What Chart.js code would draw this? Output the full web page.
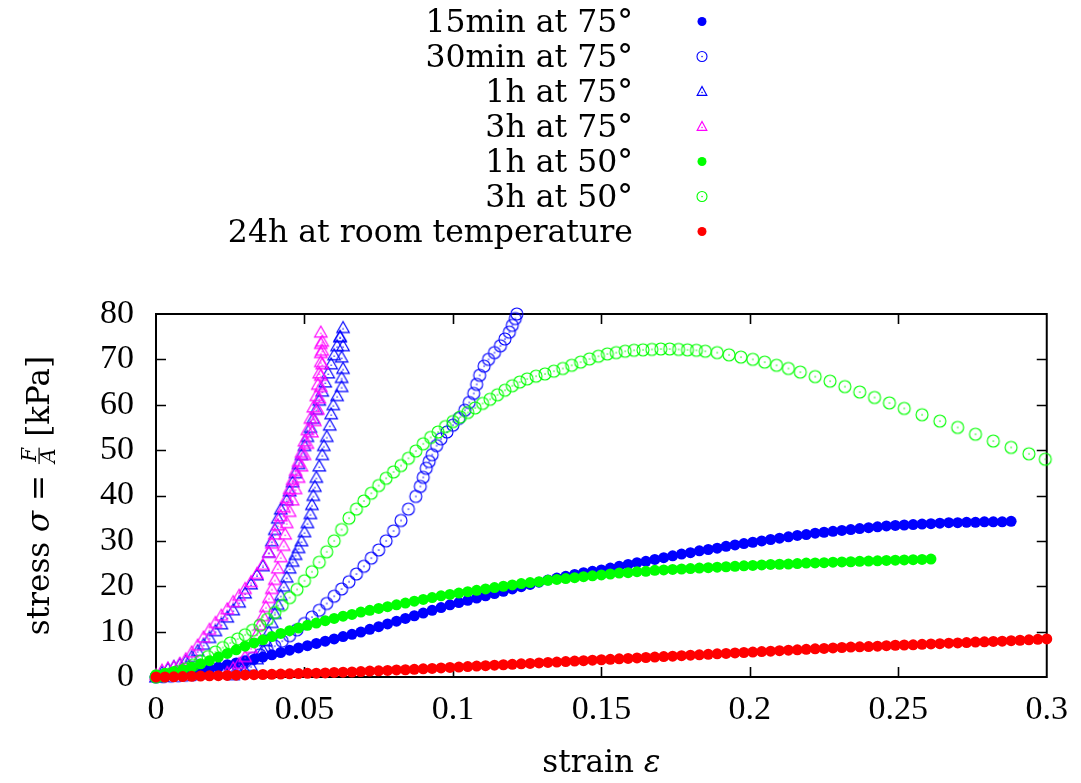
<!DOCTYPE html>
<html>
<head>
<meta charset="utf-8">
<script src="https://cdn.jsdelivr.net/npm/chart.js@4/dist/chart.umd.min.js"></script>
<style>
html,body{margin:0;padding:0;background:#fff;}
canvas{display:block;}
</style>
</head>
<body>
<canvas id="c" width="1081" height="783"></canvas>
<script>
// ---------------- DATA (strain, stress in kPa) ----------------
const seriesLabels = ["15min at 75°", "30min at 75°", "1h at 75°", "3h at 75°", "1h at 50°", "3h at 50°", "24h at room temperature"];
const xTickLabels = ["0", "0.05", "0.1", "0.15", "0.2", "0.25", "0.3"];
const yTickLabels = ["0", "10", "20", "30", "40", "50", "60", "70", "80"];

const s15min75 = [[0,0],[0.003,0.1],[0.006,0.3],[0.009,0.5],[0.012,0.8],[0.015,1.2],[0.018,1.7],[0.021,2.2],[0.024,2.7],[0.027,3.1],[0.03,3.5],[0.033,3.9],[0.036,4.4],[0.039,4.9],[0.042,5.4],[0.045,5.9],[0.048,6.4],[0.051,6.9],[0.054,7.4],[0.057,7.9],[0.06,8.4],[0.063,8.9],[0.066,9.4],[0.069,9.9],[0.072,10.5],[0.075,11.1],[0.078,11.7],[0.081,12.3],[0.084,12.9],[0.087,13.5],[0.09,14.1],[0.093,14.7],[0.096,15.3],[0.099,15.9],[0.102,16.4],[0.105,16.9],[0.108,17.4],[0.111,17.9],[0.114,18.4],[0.117,18.9],[0.12,19.4],[0.123,19.9],[0.126,20.4],[0.129,20.9],[0.132,21.4],[0.135,21.8],[0.138,22.2],[0.141,22.6],[0.144,23.0],[0.147,23.3],[0.15,23.6],[0.153,24.0],[0.156,24.4],[0.159,24.8],[0.162,25.2],[0.165,25.5],[0.168,25.9],[0.171,26.3],[0.174,26.7],[0.177,27.1],[0.18,27.4],[0.183,27.8],[0.186,28.1],[0.189,28.4],[0.192,28.8],[0.195,29.1],[0.198,29.4],[0.201,29.7],[0.204,30.0],[0.207,30.3],[0.21,30.6],[0.213,30.9],[0.216,31.2],[0.219,31.4],[0.222,31.7],[0.225,31.9],[0.228,32.1],[0.231,32.3],[0.234,32.5],[0.237,32.7],[0.24,32.9],[0.243,33.1],[0.246,33.3],[0.249,33.4],[0.252,33.5],[0.255,33.6],[0.258,33.7],[0.261,33.8],[0.264,33.9],[0.267,34.0],[0.27,34.0],[0.273,34.1],[0.276,34.1],[0.279,34.2],[0.282,34.2],[0.285,34.2],[0.288,34.3]];

const s30min75 = [[0,0],[0.0025,0.1],[0.005,0.2],[0.0075,0.3],[0.01,0.4],[0.0125,0.5],[0.015,0.7],[0.0175,0.9],[0.02,1.2],[0.0225,1.6],[0.025,2.1],[0.0275,2.7],[0.03,3.4],[0.0325,4.1],[0.035,4.9],[0.0375,5.8],[0.04,6.8],[0.0425,7.9],[0.045,9.1],[0.0475,10.4],[0.05,11.8],[0.0525,13.2],[0.055,14.7],[0.0575,16.2],[0.06,17.8],[0.0625,19.4],[0.065,21.0],[0.0675,22.7],[0.07,24.4],[0.0725,26.2],[0.075,28.0],[0.0775,30.0],[0.08,32.2],[0.0825,34.5],[0.085,37.0],[0.0875,39.8],[0.089,42],[0.09,44],[0.091,46],[0.092,47.5],[0.093,49],[0.0945,51],[0.096,52.5],[0.098,54],[0.1,55.5],[0.102,57],[0.104,58.8],[0.1055,60.5],[0.107,62.5],[0.108,64.5],[0.109,66.5],[0.1105,68.5],[0.112,70],[0.114,71.5],[0.116,73],[0.1175,74.5],[0.119,76],[0.12,77.5],[0.121,79],[0.1215,80]];

const s1h75 = [[0,0],[0.002,1.0],[0.004,1.8],[0.006,2.3],[0.008,2.8],[0.01,3.5],[0.012,4.5],[0.014,5.8],[0.016,7.2],[0.018,8.7],[0.02,10.2],[0.022,11.7],[0.024,13.2],[0.026,14.8],[0.028,16.5],[0.03,18.5],[0.032,20.5],[0.034,22.5],[0.036,24.5],[0.038,27.5],[0.039,30],[0.04,32.5],[0.041,35],[0.042,37],[0.044,39],[0.045,41],[0.046,43],[0.047,45],[0.048,47],[0.049,49],[0.05,51],[0.051,53],[0.052,55],[0.053,57],[0.054,59],[0.055,61],[0.056,63],[0.057,65],[0.058,67],[0.059,69],[0.06,71],[0.061,73],[0.062,75],[0.063,77],
  [0.026,0.5],[0.028,1.0],[0.03,1.5],[0.032,2.5],[0.034,4],[0.036,6],[0.037,8],[0.038,10],[0.039,12],[0.04,14],[0.041,16],[0.042,18],[0.043,20],[0.044,22],[0.045,24],[0.046,25.5],[0.047,27],[0.048,28.5],[0.049,30],[0.05,32],[0.051,34],[0.052,36],[0.0525,38],[0.053,40],[0.0535,42],[0.054,44],[0.055,46.5],[0.056,49],[0.0565,51],[0.0575,53],[0.0585,55.5],[0.059,58],[0.0597,60],[0.061,62],[0.0625,64],[0.0625,66],[0.063,68],[0.0625,70.5],[0.063,73],[0.062,75]];

const s3h75 = [[0,0.5],[0.002,1.5],[0.004,2.0],[0.006,2.3],[0.008,3.0],[0.01,4.0],[0.012,5.5],[0.014,7.0],[0.016,8.8],[0.018,10.5],[0.02,12.0],[0.022,13.6],[0.024,15.0],[0.026,16.6],[0.028,18.0],[0.03,19.5],[0.032,21.0],[0.034,22.8],[0.036,24.8],[0.038,27.5],[0.039,29.5],[0.04,31.5],[0.041,33.5],[0.042,35.5],[0.043,37.5],[0.044,39.5],[0.045,41.5],[0.046,43.5],[0.047,45.5],[0.048,47.5],[0.049,49.5],[0.05,52],[0.051,54.5],[0.052,57],[0.053,59.5],[0.054,62],[0.0545,64.5],[0.055,67],[0.0555,69.5],[0.056,72],[0.056,74],[0.0555,76],
  [0.024,1.0],[0.026,2.0],[0.028,3.0],[0.03,4.5],[0.032,6.5],[0.034,9.5],[0.035,11.5],[0.036,13.5],[0.037,15.5],[0.038,17.5],[0.039,19.5],[0.04,21.5],[0.041,24],[0.042,26.5],[0.043,29],[0.0435,31.5],[0.044,34],[0.045,36.5],[0.046,39],[0.047,41.5],[0.048,44],[0.049,46.5],[0.05,49],[0.051,51.5],[0.0525,54],[0.0535,56.5],[0.0545,59],[0.055,61.5],[0.0555,64],[0.0555,66.5],[0.056,69],[0.0555,71.5],[0.0555,73.5]];

const s1h50 = [[0,0.5],[0.003,0.8],[0.006,1.2],[0.009,1.6],[0.012,2.2],[0.015,2.9],[0.018,3.6],[0.021,4.4],[0.024,5.2],[0.027,6.0],[0.03,6.8],[0.033,7.5],[0.036,8.2],[0.039,8.9],[0.042,9.6],[0.045,10.2],[0.048,10.8],[0.051,11.4],[0.054,11.9],[0.057,12.4],[0.06,12.9],[0.063,13.4],[0.066,13.8],[0.069,14.3],[0.072,14.7],[0.075,15.1],[0.078,15.5],[0.081,15.9],[0.084,16.3],[0.087,16.7],[0.09,17.1],[0.093,17.5],[0.096,17.9],[0.099,18.2],[0.102,18.5],[0.105,18.8],[0.108,19.1],[0.111,19.4],[0.114,19.7],[0.117,20.0],[0.12,20.3],[0.123,20.6],[0.126,20.8],[0.129,21.0],[0.132,21.3],[0.135,21.5],[0.138,21.7],[0.141,21.9],[0.144,22.1],[0.147,22.3],[0.15,22.5],[0.153,22.7],[0.156,22.9],[0.159,23.0],[0.162,23.2],[0.165,23.3],[0.168,23.5],[0.171,23.6],[0.174,23.7],[0.177,23.8],[0.18,23.9],[0.183,24.0],[0.186,24.1],[0.189,24.2],[0.192,24.3],[0.195,24.4],[0.198,24.5],[0.201,24.6],[0.204,24.7],[0.207,24.8],[0.21,24.85],[0.213,24.9],[0.216,25.0],[0.219,25.1],[0.222,25.15],[0.225,25.2],[0.228,25.3],[0.231,25.35],[0.234,25.4],[0.237,25.5],[0.24,25.55],[0.243,25.6],[0.246,25.7],[0.249,25.75],[0.252,25.8],[0.255,25.85],[0.258,25.9],[0.261,26.0]];

const s3h50 = [[0,0],[0.0025,0.3],[0.005,0.7],[0.0075,1.2],[0.01,1.8],[0.0125,2.6],[0.015,3.5],[0.0175,4.5],[0.02,5.5],[0.0225,6.5],[0.025,7.5],[0.0275,8.4],[0.03,9.3],[0.0325,10.3],[0.035,11.4],[0.0375,12.7],[0.04,14.2],[0.0425,15.8],[0.045,17.5],[0.0475,19.3],[0.05,21.2],[0.0525,23.2],[0.055,25.3],[0.0575,27.6],[0.06,30.0],[0.0625,32.5],[0.065,35.0],[0.0675,37.0],[0.07,38.8],[0.0725,40.5],[0.075,42.2],[0.0775,43.8],[0.08,45.2],[0.0825,46.6],[0.085,48.2],[0.0875,49.8],[0.09,51.4],[0.0925,52.8],[0.095,54.0],[0.0975,55.2],[0.1,56.3],[0.1025,57.3],[0.105,58.3],[0.1075,59.3],[0.11,60.3],[0.1125,61.2],[0.115,62.2],[0.1175,63.2],[0.12,64.2],[0.1225,65.0],[0.125,65.7],[0.128,66.3],[0.131,66.8],[0.134,67.4],[0.137,68.0],[0.14,68.7],[0.143,69.4],[0.146,70.1],[0.149,70.7],[0.152,71.2],[0.155,71.5],[0.158,71.8],[0.161,72.0],[0.164,72.1],[0.167,72.2],[0.17,72.3],[0.173,72.3],[0.176,72.2],[0.179,72.1],[0.182,72.0],[0.185,71.8],[0.189,71.5],[0.193,71.0],[0.197,70.5],[0.201,70.0],[0.205,69.4],[0.209,68.7],[0.213,68.0],[0.217,67.2],[0.222,66.2],[0.227,65.2],[0.232,64.0],[0.237,62.8],[0.242,61.6],[0.247,60.4],[0.252,59.2],[0.258,57.8],[0.264,56.4],[0.27,55.0],[0.276,53.5],[0.282,52.0],[0.288,50.6],[0.294,49.2],[0.2995,48.0]];

const s24hRT = [[0,0],[0.003,0.0],[0.006,0.05],[0.009,0.1],[0.012,0.15],[0.015,0.2],[0.018,0.25],[0.021,0.3],[0.024,0.35],[0.027,0.4],[0.03,0.45],[0.033,0.5],[0.036,0.55],[0.039,0.6],[0.042,0.65],[0.045,0.7],[0.048,0.75],[0.051,0.8],[0.054,0.85],[0.057,0.9],[0.06,1.0],[0.063,1.05],[0.066,1.1],[0.069,1.2],[0.072,1.3],[0.075,1.35],[0.078,1.45],[0.081,1.55],[0.084,1.6],[0.087,1.7],[0.09,1.8],[0.093,1.9],[0.096,2.0],[0.099,2.1],[0.102,2.2],[0.105,2.3],[0.108,2.4],[0.111,2.5],[0.114,2.6],[0.117,2.7],[0.12,2.8],[0.123,2.9],[0.126,3.0],[0.129,3.1],[0.132,3.2],[0.135,3.3],[0.138,3.4],[0.141,3.5],[0.144,3.6],[0.147,3.7],[0.15,3.8],[0.153,3.9],[0.156,4.0],[0.159,4.1],[0.162,4.2],[0.165,4.3],[0.168,4.4],[0.171,4.5],[0.174,4.6],[0.177,4.7],[0.18,4.8],[0.183,4.9],[0.186,5.0],[0.189,5.1],[0.192,5.2],[0.195,5.3],[0.198,5.4],[0.201,5.5],[0.204,5.6],[0.207,5.7],[0.21,5.8],[0.213,5.9],[0.216,6.0],[0.219,6.1],[0.222,6.2],[0.225,6.3],[0.228,6.4],[0.231,6.5],[0.234,6.6],[0.237,6.65],[0.24,6.7],[0.243,6.8],[0.246,6.9],[0.249,7.0],[0.252,7.05],[0.255,7.1],[0.258,7.2],[0.261,7.3],[0.264,7.35],[0.267,7.45],[0.27,7.5],[0.273,7.6],[0.276,7.7],[0.279,7.75],[0.282,7.85],[0.285,7.9],[0.288,8.0],[0.291,8.1],[0.294,8.2],[0.297,8.3],[0.3,8.4]];

const seriesData = [s15min75, s30min75, s1h75, s3h75, s1h50, s3h50, s24hRT];

// ---------------- STYLES ----------------
const seriesColors = ["#0000ff", "#0000ff", "#0000ff", "#ff00ff", "#00ff00", "#00ff00", "#ff0000"];
const seriesKinds = ["filled", "open", "tri", "tri", "filled", "open", "filled"];
const SERIF = "'Liberation Serif', 'Times New Roman', serif";
const TEXTSERIF = "'DejaVu Serif', serif";

function openCircleImg(color) {
  const c = document.createElement('canvas'); c.width = 16; c.height = 16;
  const g = c.getContext('2d');
  g.strokeStyle = color; g.lineWidth = 1.1;
  g.beginPath(); g.arc(8, 8, 6, 0, Math.PI * 2); g.stroke();
  g.fillStyle = color; g.fillRect(7.4, 7.4, 1.3, 1.3);
  return c;
}
function triImg(color) {
  const c = document.createElement('canvas'); c.width = 16; c.height = 16;
  const g = c.getContext('2d');
  g.strokeStyle = color; g.lineWidth = 1.2;
  g.beginPath(); g.moveTo(8, 2); g.lineTo(1.8, 12.8); g.lineTo(14.2, 12.8); g.closePath(); g.stroke();
  g.fillStyle = color; g.fillRect(7.4, 8.6, 1.3, 1.3);
  return c;
}

const datasets = seriesData.map((arr, i) => {
  const kind = seriesKinds[i], col = seriesColors[i];
  const ds = {
    label: seriesLabels[i],
    data: arr.map(p => ({x: p[0], y: p[1]})),
    order: seriesData.length - i,
    clip: false,
    showLine: false,
    borderWidth: 0,
    backgroundColor: col,
    borderColor: col
  };
  if (kind === 'filled') { ds.pointStyle = 'circle'; ds.pointRadius = 5.5; }
  else if (kind === 'open') { ds.pointStyle = openCircleImg(col); ds.pointRadius = 6; }
  else { ds.pointStyle = triImg(col); ds.pointRadius = 6; }
  return ds;
});

// ---------------- PLUGINS ----------------
const framePlugin = {
  id: 'frame',
  beforeDatasetsDraw(chart) {
    const {ctx, chartArea: a, scales: {x, y}} = chart;
    ctx.save();
    ctx.strokeStyle = '#000';
    ctx.lineWidth = 1.6;
    ctx.beginPath();
    x.ticks.forEach(t => {
      const px = Math.round(x.getPixelForValue(t.value)) + 0.5;
      if (px <= a.left + 2 || px >= a.right - 2) return;
      ctx.moveTo(px, a.bottom); ctx.lineTo(px, a.bottom - 10);
      ctx.moveTo(px, a.top); ctx.lineTo(px, a.top + 10);
    });
    y.ticks.forEach(t => {
      const py = Math.round(y.getPixelForValue(t.value)) + 0.5;
      if (py <= a.top + 2 || py >= a.bottom - 2) return;
      ctx.moveTo(a.left, py); ctx.lineTo(a.left + 10, py);
      ctx.moveTo(a.right, py); ctx.lineTo(a.right - 10, py);
    });
    ctx.stroke();
    ctx.lineWidth = 2;
    ctx.strokeRect(a.left, a.top, a.right - a.left, a.bottom - a.top);
    ctx.restore();
  }
};

const titlesPlugin = {
  id: 'titles',
  afterDraw(chart) {
    const ctx = chart.ctx;
    const a = chart.chartArea;
    ctx.save();
    ctx.fillStyle = '#000';
    ctx.textBaseline = 'alphabetic';
    ctx.textAlign = 'left';
    // x title: strain ε
    const up = '31px ' + TEXTSERIF, it = 'italic 31px ' + TEXTSERIF;
    ctx.font = up; const w1 = ctx.measureText('strain ').width;
    ctx.font = it; const w2 = ctx.measureText('ε').width;
    let x0 = (a.left + a.right) / 2 - (w1 + w2) / 2;
    ctx.font = up; ctx.fillText('strain ', x0, 772);
    ctx.font = it; ctx.fillText('ε', x0 + w1, 772);

    // y title (rotated): stress σ = F/A [kPa]
    const fr = 'italic 20px ' + TEXTSERIF;
    ctx.font = up; const p1 = ctx.measureText('stress ').width;
    ctx.font = it; const p2 = ctx.measureText('σ').width;
    ctx.font = up; const p3 = ctx.measureText(' = ').width;
    ctx.font = fr; const pf = Math.max(ctx.measureText('F').width, ctx.measureText('A').width) + 4;
    ctx.font = up; const p5 = ctx.measureText(' [kPa]').width;
    const total = p1 + p2 + p3 + pf + p5;
    ctx.translate(49, (a.top + a.bottom) / 2);
    ctx.rotate(-Math.PI / 2);
    let cx = -total / 2;
    ctx.font = up; ctx.fillText('stress ', cx, 0); cx += p1;
    ctx.font = it; ctx.fillText('σ', cx, 0); cx += p2;
    ctx.font = up; ctx.fillText(' = ', cx, 0); cx += p3;
    ctx.font = fr; ctx.textAlign = 'center';
    ctx.fillText('F', cx + pf / 2 + 1, -13);
    ctx.fillText('A', cx + pf / 2, 6);
    ctx.fillRect(cx + 1, -10.5, pf - 2, 1.2);
    ctx.textAlign = 'left'; cx += pf;
    ctx.font = up; ctx.fillText(' [kPa]', cx, 0);
    ctx.restore();
  }
};

const legendPlugin = {
  id: 'gpLegend',
  afterDraw(chart) {
    const ctx = chart.ctx;
    ctx.save();
    ctx.font = '31.5px ' + TEXTSERIF;
    ctx.textAlign = 'right';
    ctx.textBaseline = 'alphabetic';
    chart.data.datasets.forEach((ds, i) => {
      const base = 32 + 35.0 * i;
      const my = 21.5 + 35.0 * i;
      ctx.fillStyle = '#000';
      ctx.fillText(ds.label, 633, base);
      const col = seriesColors[i], kind = seriesKinds[i];
      const mx = 702;
      ctx.strokeStyle = col; ctx.fillStyle = col;
      if (kind === 'filled') {
        ctx.beginPath(); ctx.arc(mx, my, 4.5, 0, Math.PI * 2); ctx.fill();
      } else if (kind === 'open') {
        ctx.lineWidth = 1.1;
        ctx.beginPath(); ctx.arc(mx, my, 5, 0, Math.PI * 2); ctx.stroke();
        ctx.fillRect(mx - 0.6, my - 0.6, 1.3, 1.3);
      } else {
        ctx.lineWidth = 1.2;
        ctx.beginPath(); ctx.moveTo(mx, my - 5); ctx.lineTo(mx - 4.8, my + 3.8); ctx.lineTo(mx + 4.8, my + 3.8); ctx.closePath(); ctx.stroke();
        ctx.fillRect(mx - 0.6, my + 0.3, 1.3, 1.3);
      }
    });
    ctx.restore();
  }
};

// ---------------- CHART ----------------
const tickFont = {family: SERIF, size: 34};
new Chart(document.getElementById('c'), {
  type: 'scatter',
  data: {datasets},
  plugins: [framePlugin, titlesPlugin, legendPlugin],
  options: {
    responsive: false,
    animation: false,
    devicePixelRatio: 1,
    layout: {padding: {top: 314, right: 33, left: 0, bottom: 0}},
    plugins: {legend: {display: false}, tooltip: {enabled: false}, title: {display: false}},
    scales: {
      x: {
        type: 'linear', min: 0, max: 0.3,
        grid: {display: false, drawTicks: false},
        border: {display: false},
        ticks: {
          stepSize: 0.05, autoSkip: false, maxRotation: 0, color: '#000', font: tickFont, padding: 13,
          callback: (v, i) => xTickLabels[i] !== undefined ? xTickLabels[i] : v
        },
        afterFit: s => { s.height = 106; }
      },
      y: {
        type: 'linear', min: 0, max: 80,
        grid: {display: false, drawTicks: false},
        border: {display: false},
        ticks: {
          stepSize: 10, autoSkip: false, color: '#000', font: tickFont, padding: 22,
          callback: (v, i) => yTickLabels[i] !== undefined ? yTickLabels[i] : v
        },
        afterFit: s => { s.width = 156; }
      }
    }
  }
});
</script>
</body>
</html>
